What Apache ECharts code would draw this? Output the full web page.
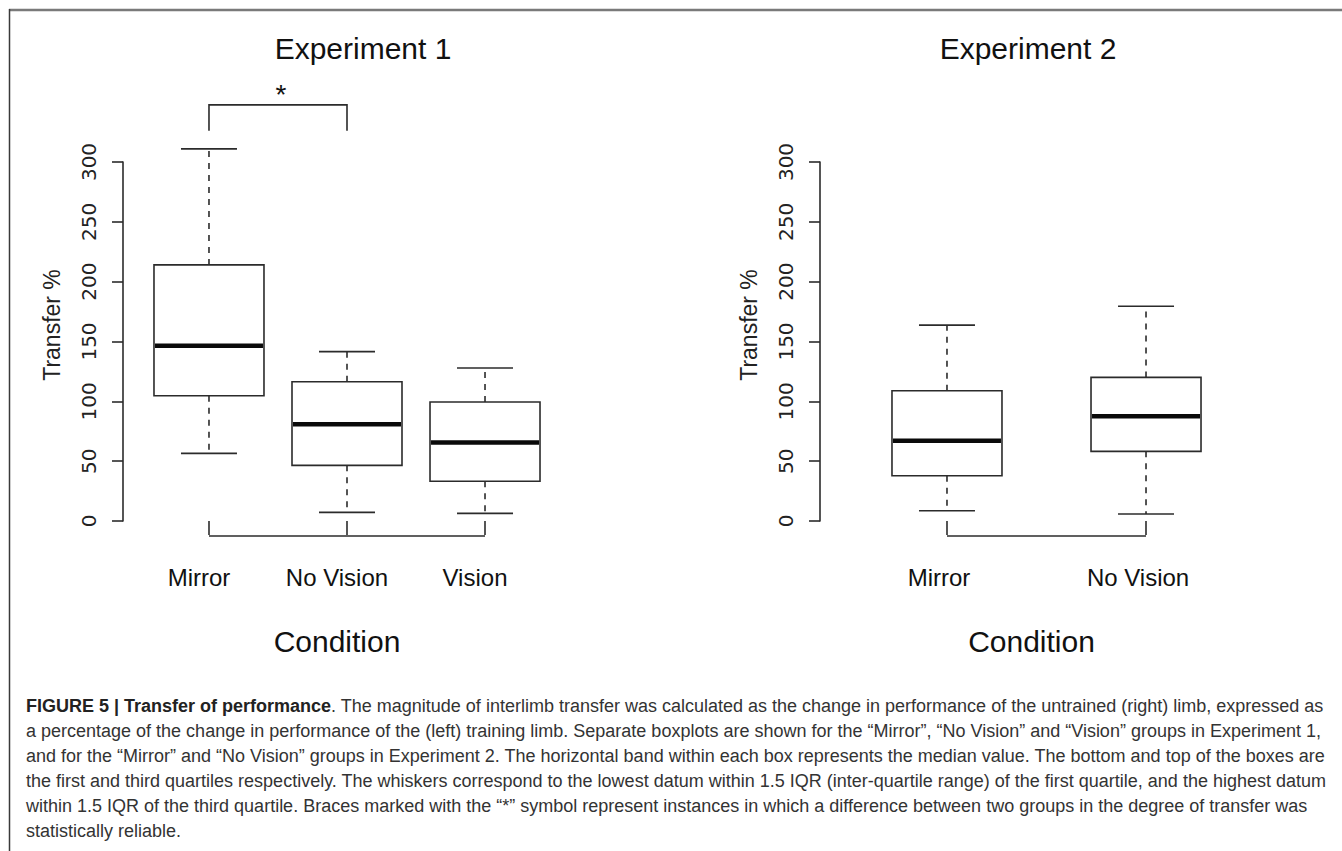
<!DOCTYPE html>
<html><head><meta charset="utf-8">
<script src="https://cdn.jsdelivr.net/npm/echarts@6/dist/echarts.min.js"></script>
<style>html,body{margin:0;padding:0;background:#fff;} #c{width:1342px;height:851px;}</style>
</head><body><div id="c"></div>
<script>
// ---------------- data ----------------
const titles = ['Experiment 1', 'Experiment 2'];
const xAxisName = 'Condition';
const yAxisName = 'Transfer %';
const yTicks = [0, 50, 100, 150, 200, 250, 300];

const exp1Categories = ['Mirror', 'No Vision', 'Vision'];
const exp1Min    = [56.5,   7.2,   6.4];
const exp1Q1     = [104.7, 46.5,  33.2];
const exp1Median = [146.5, 80.8,  65.7];
const exp1Q3     = [214.0, 116.4, 99.4];
const exp1Max    = [311.0, 141.5, 127.8];

const exp2Categories = ['Mirror', 'No Vision'];
const exp2Min    = [8.6,   5.8];
const exp2Q1     = [37.8,  58.2];
const exp2Median = [67.1,  87.5];
const exp2Q3     = [108.9, 120.0];
const exp2Max    = [163.7, 179.4];

const exp1Significant = [[1, 2]];   // Mirror vs No Vision
const sigSymbol = '*';

const captionBold = 'FIGURE 5 | Transfer of performance';
const captionLines = [
  '. The magnitude of interlimb transfer was calculated as the change in performance of the untrained (right) limb, expressed as',
  'a percentage of the change in performance of the (left) training limb. Separate boxplots are shown for the \u201cMirror\u201d, \u201cNo Vision\u201d and \u201cVision\u201d groups in Experiment 1,',
  'and for the \u201cMirror\u201d and \u201cNo Vision\u201d groups in Experiment 2. The horizontal band within each box represents the median value. The bottom and top of the boxes are',
  'the first and third quartiles respectively. The whiskers correspond to the lowest datum within 1.5 IQR (inter-quartile range) of the first quartile, and the highest datum',
  'within 1.5 IQR of the third quartile. Braces marked with the \u201c*\u201d symbol represent instances in which a difference between two groups in the degree of transfer was',
  'statistically reliable.'
];

// ---------------- style ----------------
const SANS = "'Liberation Sans', Arial, sans-serif";
const INK = '#2b2b2b';
const AXIS_OFFSET = 15;
const BOX_HALF = 55, CAP_HALF = 28;

function boxRows(mn, q1, md, q3, mx) {
  return mn.map((v, i) => [i + 1, v, q1[i], md[i], q3[i], mx[i]]);
}

function renderBox(params, api) {
  const x = api.value(0);
  const pMin = api.coord([x, api.value(1)]);
  const pQ1 = api.coord([x, api.value(2)]);
  const pMed = api.coord([x, api.value(3)]);
  const pQ3 = api.coord([x, api.value(4)]);
  const pMax = api.coord([x, api.value(5)]);
  const cx = pMed[0];
  const ln = (x1, y1, x2, y2, extra) => ({type: 'line', shape: {x1, y1, x2, y2},
    style: Object.assign({stroke: INK, lineWidth: 1.6}, extra || {})});
  return {type: 'group', children: [
    ln(cx, pQ3[1], cx, pMax[1], {lineDash: [6, 6]}),
    ln(cx, pQ1[1], cx, pMin[1], {lineDash: [6, 6]}),
    ln(cx - CAP_HALF, pMax[1], cx + CAP_HALF, pMax[1]),
    ln(cx - CAP_HALF, pMin[1], cx + CAP_HALF, pMin[1]),
    {type: 'rect', shape: {x: cx - BOX_HALF, y: pQ3[1], width: 2 * BOX_HALF, height: pQ1[1] - pQ3[1]},
     style: {fill: '#fff', stroke: INK, lineWidth: 1.6}},
    ln(cx - BOX_HALF + 1, pMed[1], cx + BOX_HALF - 1, pMed[1], {stroke: '#0a0a0a', lineWidth: 4.5})
  ]};
}

// bottom "axis brace" joining first and last category (R style axis line)
function makeAxisBrace(n) {
  return function (params, api) {
    const a = api.coord([1, 0]);
    const b = api.coord([n, 0]);
    const y = a[1] + AXIS_OFFSET;
    return {type: 'line', shape: {x1: a[0], y1: y, x2: b[0], y2: y},
      style: {stroke: INK, lineWidth: 1.6}};
  };
}

function makeSigBrace(maxArr) {
  return function (params, api) {
    const i1 = api.value(0), i2 = api.value(1);
    const p1 = api.coord([i1, maxArr[i1 - 1]]);
    const p2 = api.coord([i2, maxArr[i2 - 1]]);
    const legBottom = Math.min(p1[1], p2[1]) - 18;
    const top = legBottom - 26;
    return {type: 'group', children: [
      {type: 'polyline', shape: {points: [[p1[0], legBottom], [p1[0], top], [p2[0], top], [p2[0], legBottom]]},
       style: {stroke: INK, lineWidth: 1.6, fill: null}},
      {type: 'text', x: (p1[0] + p2[0]) / 2 + 3, y: top - 10,
       style: {text: sigSymbol, fontFamily: SANS, fontSize: 28, fill: '#111', align: 'center', verticalAlign: 'middle'}}
    ]};
  };
}

function makeX(gi, min, max, cats, labelPad, namePad) {
  const vals = cats.map((c, i) => i + 1);
  return {type: 'value', gridIndex: gi, min, max, offset: AXIS_OFFSET, position: 'bottom',
    axisLine: {show: false}, splitLine: {show: false},
    axisTick: {show: true, customValues: vals, length: 14, lineStyle: {color: INK, width: 1.6}},
    axisLabel: {show: true, customValues: vals, formatter: v => cats[Math.round(v) - 1] || '',
      fontFamily: SANS, fontSize: 24, color: '#111', margin: 29, padding: [0, labelPad, 0, 0]},
    name: xAxisName, nameLocation: 'middle', nameGap: 90,
    nameTextStyle: {fontFamily: SANS, fontSize: 30, color: '#111', padding: [0, namePad, 0, 0]}
  };
}

function makeY(gi) {
  return {type: 'value', gridIndex: gi, min: yTicks[0], max: yTicks[yTicks.length - 1], interval: 50,
    axisLine: {show: true, lineStyle: {color: INK, width: 1.6}},
    axisTick: {show: true, length: 11, lineStyle: {color: INK, width: 1.6}},
    axisLabel: {rotate: 90, fontFamily: "'DejaVu Sans', sans-serif", fontSize: 20, color: '#222', margin: 24},
    splitLine: {show: false},
    name: yAxisName, nameLocation: 'middle', nameRotate: 90, nameGap: 60,
    nameTextStyle: {fontFamily: SANS, fontSize: 23, color: '#222', padding: [0, 0, 0, 33]}
  };
}

const chart = echarts.init(document.getElementById('c'), null, {renderer: 'svg', width: 1342, height: 851});

const CAP_FONT = 18;
const captionGraphics = captionLines.map((t, i) => ({
  type: 'text', x: 26, y: 706 + 25 * i,
  style: i === 0
    ? {text: '{b|' + captionBold + '}' + t, rich: {b: {fontWeight: 'bold', fill: '#222', fontSize: CAP_FONT, fontFamily: SANS}},
       fontFamily: SANS, fontSize: CAP_FONT, fill: '#333', verticalAlign: 'middle'}
    : {text: t, fontFamily: SANS, fontSize: CAP_FONT, fill: '#333', verticalAlign: 'middle'}
}));

chart.setOption({
  animation: false,
  backgroundColor: '#fff',
  title: [
    {text: titles[0], left: 358, top: 28, textAlign: 'center',
     textStyle: {fontFamily: SANS, fontSize: 30, fontWeight: 'normal', color: '#111'}},
    {text: titles[1], left: 1023, top: 28, textAlign: 'center',
     textStyle: {fontFamily: SANS, fontSize: 30, fontWeight: 'normal', color: '#111'}}
  ],
  grid: [
    {left: 123, top: 162, width: 448, height: 359},
    {left: 820, top: 162, width: 453, height: 359}
  ],
  xAxis: [
    makeX(0, 0.377, 3.623, exp1Categories, 20, 20),
    makeX(1, 0.362, 2.638, exp2Categories, 16, 30)
  ],
  yAxis: [makeY(0), makeY(1)],
  series: [
    {type: 'custom', xAxisIndex: 0, yAxisIndex: 0, clip: false, renderItem: renderBox,
     data: boxRows(exp1Min, exp1Q1, exp1Median, exp1Q3, exp1Max)},
    {type: 'custom', xAxisIndex: 1, yAxisIndex: 1, clip: false, renderItem: renderBox,
     data: boxRows(exp2Min, exp2Q1, exp2Median, exp2Q3, exp2Max)},
    {type: 'custom', xAxisIndex: 0, yAxisIndex: 0, clip: false, renderItem: makeAxisBrace(exp1Categories.length),
     data: [[1, 0]]},
    {type: 'custom', xAxisIndex: 1, yAxisIndex: 1, clip: false, renderItem: makeAxisBrace(exp2Categories.length),
     data: [[1, 0]]},
    {type: 'custom', xAxisIndex: 0, yAxisIndex: 0, clip: false, renderItem: makeSigBrace(exp1Max),
     data: exp1Significant}
  ],
  graphic: [
    {type: 'line', shape: {x1: 9, y1: 10, x2: 1342, y2: 10}, style: {stroke: '#7a7a7a', lineWidth: 2.5}},
    {type: 'line', shape: {x1: 9.5, y1: 9, x2: 9.5, y2: 851}, style: {stroke: '#3a3a3a', lineWidth: 1.5}}
  ].concat(captionGraphics)
});
</script>
</body></html>
